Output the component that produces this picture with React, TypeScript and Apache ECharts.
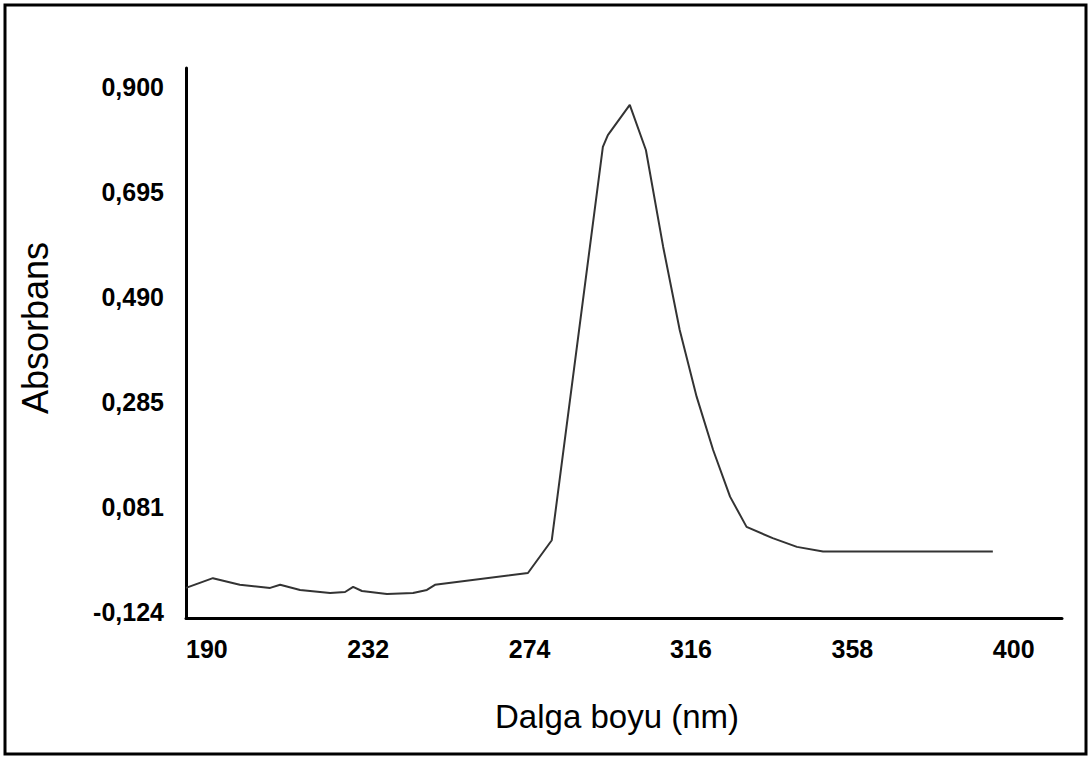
import { useEffect, useRef } from 'react';
import * as echarts from 'echarts';

const wavelengths = [190, 197, 204, 211.9, 214.5, 219.7, 227.5, 231.4, 233.5, 235.8, 242.3, 249.1, 252.7, 254.8, 279, 285.2, 298.5, 299.8, 305.5, 309.7, 314.2, 318.5, 322.9, 327.2, 331.6, 335.9, 342.7, 349.0, 355.8, 400];
const absorbance = [-0.077, -0.058, -0.071, -0.077, -0.071, -0.081, -0.087, -0.085, -0.075, -0.083, -0.089, -0.087, -0.081, -0.071, -0.048, 0.016, 0.783, 0.806, 0.865, 0.777, 0.588, 0.426, 0.296, 0.192, 0.101, 0.042, 0.02, 0.003, -0.006, -0.006];

const xTicks = [190, 232, 274, 316, 358, 400];
const yTicks = [-0.124, 0.081, 0.285, 0.49, 0.695, 0.9];
const yTickLabels = ['-0,124', '0,081', '0,285', '0,490', '0,695', '0,900'];

const xTitle = 'Dalga boyu (nm)';
const yTitle = 'Absorbans';

const FONT = '"Liberation Sans", Arial, Helvetica, sans-serif';

export default function App() {
  const ref = useRef<HTMLDivElement>(null);
  useEffect(() => {
    if (!ref.current) return;
    const chart = echarts.init(ref.current, null, { renderer: 'svg' });
    const data = wavelengths.map((w, i) => [w, absorbance[i]]);
    chart.setOption({
      animation: false,
      backgroundColor: '#ffffff',
      grid: { left: 186, top: 68, width: 876, height: 550, containLabel: false },
      xAxis: {
        type: 'value',
        min: 190,
        max: 418,
        axisLine: { show: true, onZero: false, lineStyle: { color: '#000', width: 3 } },
        axisTick: { show: false },
        splitLine: { show: false },
        axisLabel: {
          customValues: xTicks,
          align: 'left',
          margin: 18,
          color: '#000',
          fontFamily: FONT,
          fontWeight: 'bold',
          fontSize: 25,
          formatter: (v: number) => String(Math.round(v)),
        },
      },
      yAxis: {
        type: 'value',
        min: -0.1357,
        max: 0.937,
        axisLine: { show: true, lineStyle: { color: '#000', width: 3 } },
        axisTick: { show: false },
        splitLine: { show: false },
        axisLabel: {
          customValues: yTicks,
          margin: 22,
          color: '#000',
          fontFamily: FONT,
          fontWeight: 'bold',
          fontSize: 25,
          formatter: (v: number) => {
            const i = yTicks.findIndex((t) => Math.abs(t - v) < 1e-6);
            return i >= 0 ? yTickLabels[i] : '';
          },
        },
      },
      series: [
        {
          type: 'line',
          data,
          showSymbol: false,
          symbol: 'none',
          lineStyle: { color: '#333', width: 2 },
          smooth: false,
        },
      ],
      graphic: [
        {
          type: 'rect',
          shape: { x: 5, y: 5, width: 1081, height: 749 },
          style: { fill: 'none', stroke: '#000', lineWidth: 3 },
          silent: true,
        },
        {
          type: 'text',
          x: 617,
          y: 716,
          style: {
            text: xTitle,
            fontFamily: FONT,
            fontSize: 33,
            fill: '#000',
            align: 'center',
            verticalAlign: 'middle',
          },
        },
        {
          type: 'text',
          x: 35,
          y: 328,
          rotation: Math.PI / 2,
          style: {
            text: yTitle,
            fontFamily: FONT,
            fontSize: 36,
            fill: '#000',
            align: 'center',
            verticalAlign: 'middle',
          },
        },
      ],
    });
    return () => chart.dispose();
  }, []);
  return (
    <div
      ref={ref}
      style={{ position: 'fixed', left: 0, top: 0, width: 1090, height: 758, background: '#fff' }}
    />
  );
}
